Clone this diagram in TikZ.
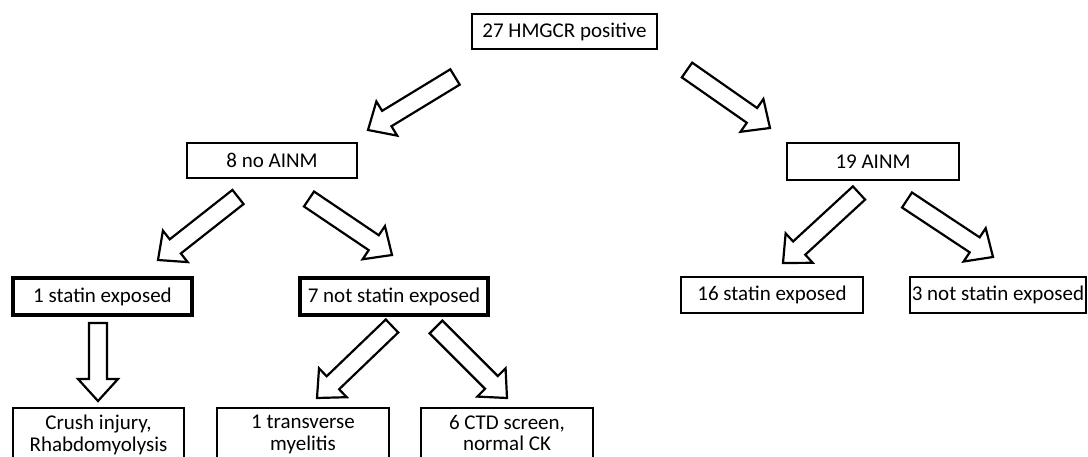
\documentclass[tikz,border=0pt]{standalone}
\usepackage{fontspec}
\setmainfont{Carlito}
\usepackage{tikz}
\usetikzlibrary{calc}

% hollow block arrow from tail #1 to tip #2
\newcommand{\blockarr}[2]{%
  \coordinate (hb) at ($(#2)!22pt!(#1)$);
  \draw[barr] ($(#1)!9pt!90:(#2)$) -- ($(hb)!9pt!90:(#2)$) -- ($(hb)!20pt!90:(#2)$)
    -- (#2) -- ($(hb)!20pt!-90:(#2)$) -- ($(hb)!9pt!-90:(#2)$) -- ($(#1)!9pt!-90:(#2)$) -- cycle;
}

\begin{document}
\begin{tikzpicture}[x=1pt, y=-1pt,
    box/.style={draw, line width=2.4pt, minimum height=35pt, inner sep=0pt, font=\fontsize{21}{23}\selectfont},
    thickbox/.style={box, line width=3.6pt},
    leaf/.style={draw, line width=2.2pt, anchor=north, align=center, inner xsep=0pt, inner ysep=7pt, text depth=10pt, font=\fontsize{21}{21.5}\selectfont},
    barr/.style={draw, fill=white, line width=2.2pt, line join=miter}
]
\useasboundingbox (0,0) rectangle (1088,457);
\clip (0,0) rectangle (1088,457);

\node[box, minimum width=185pt] (pos) at (564.5,31.5) {27 HMGCR positive};
\node[box, minimum width=170pt] (noA) at (272,160.5) {8 no AINM};
\node[box, minimum width=172pt, minimum height=37pt] (ainm) at (873,161.5) {19 AINM};
\node[thickbox, minimum width=179pt, minimum height=37pt] (st1) at (102.5,296.5) {1 statin exposed};
\node[thickbox, minimum width=188pt, minimum height=37pt] (nst7) at (394,296.5) {7 not statin exposed};
\node[box, minimum width=182pt, minimum height=36pt] (st16) at (772,295) {16 statin exposed};
\node[box, minimum width=176pt, minimum height=36pt] (nst3) at (998,295) {3 not statin exposed};
\node[leaf, minimum width=171pt] (crush) at (98.5,407) {Crush injury,\\Rhabdomyolysis};
\node[leaf, minimum width=172pt] (tm) at (303,407) {1 transverse\\myelitis};
\node[leaf, minimum width=172pt] (ctd) at (507,407) {6 CTD screen,\\normal CK};

% arrow tails and tips
\coordinate (posL) at (455,77);   \coordinate (noAin) at (368,130);
\coordinate (posR) at (687,70);   \coordinate (ainmin) at (770,128);
\coordinate (noAL) at (238,197);  \coordinate (st1in) at (158,260);
\coordinate (noAR) at (309,199);  \coordinate (nst7in) at (392,255);
\coordinate (ainmL) at (859,193); \coordinate (st16in) at (783,263);
\coordinate (ainmR) at (907,200); \coordinate (nst3in) at (993,257);
\coordinate (st1D) at (98,323);   \coordinate (crushin) at (98,401);
\coordinate (nst7L) at (392,326); \coordinate (tmin) at (317,398);
\coordinate (nst7R) at (436,327); \coordinate (ctdin) at (507,398);

\blockarr{posL}{noAin}
\blockarr{posR}{ainmin}
\blockarr{noAL}{st1in}
\blockarr{noAR}{nst7in}
\blockarr{ainmL}{st16in}
\blockarr{ainmR}{nst3in}
\blockarr{st1D}{crushin}
\blockarr{nst7L}{tmin}
\blockarr{nst7R}{ctdin}
\end{tikzpicture}
\end{document}
